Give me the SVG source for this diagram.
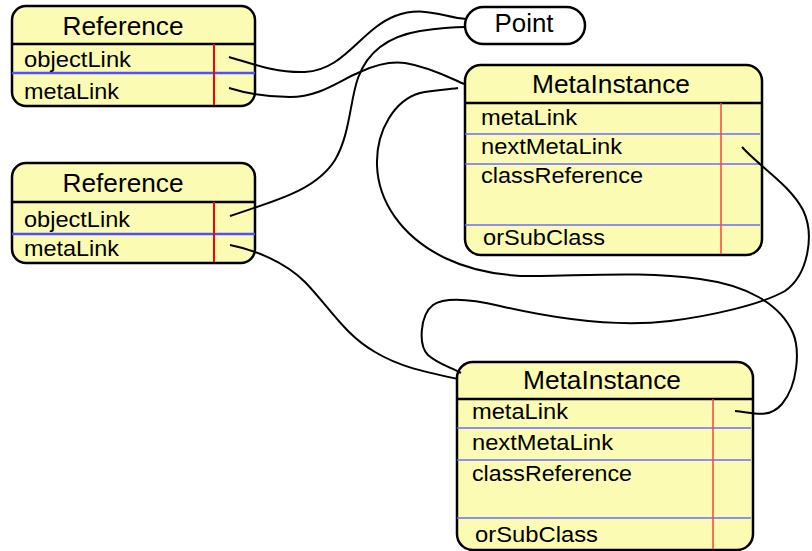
<svg xmlns="http://www.w3.org/2000/svg" width="812" height="551" viewBox="0 0 812 551">
<style>
.box{fill:#fbfbb4;stroke:#000;stroke-width:2.5}
.pt{fill:#fff;stroke:#000;stroke-width:2.5}
.hd{stroke:#000;stroke-width:2.5}
.rb{stroke:#5050ff;stroke-width:2.5}
.rr{stroke:#ff0000;stroke-width:2}
.mb{stroke:#6c6cff;stroke-width:1.5}
.mr{stroke:#ff4040;stroke-width:1.5}
.t{font-family:"Liberation Sans",Arial,sans-serif;fill:#000}
.h{font-size:25.5px;text-anchor:middle}
.r{font-size:22.5px}
.c{fill:none;stroke:#000;stroke-width:2}
</style>
<g id="ref1">
<rect class="box" x="12" y="6" width="243" height="100" rx="14"/>
<line class="hd" x1="12" y1="44" x2="255" y2="44"/>
<line class="rb" x1="12" y1="73" x2="255" y2="73"/>
<line class="rr" x1="214" y1="44" x2="214" y2="105"/>
<text class="t h" x="123" y="35" textLength="121" lengthAdjust="spacingAndGlyphs">Reference</text>
<text class="t r" x="24" y="67" textLength="107" lengthAdjust="spacingAndGlyphs">objectLink</text>
<text class="t r" x="24" y="99" textLength="95" lengthAdjust="spacingAndGlyphs">metaLink</text>
</g>
<g id="ref2">
<rect class="box" x="12" y="163" width="243" height="100" rx="14"/>
<line class="hd" x1="12" y1="202" x2="255" y2="202"/>
<line class="rb" x1="12" y1="234" x2="255" y2="234"/>
<line class="rr" x1="214" y1="202" x2="214" y2="262"/>
<text class="t h" x="123" y="192" textLength="121" lengthAdjust="spacingAndGlyphs">Reference</text>
<text class="t r" x="24" y="227" textLength="106" lengthAdjust="spacingAndGlyphs">objectLink</text>
<text class="t r" x="24" y="256" textLength="95" lengthAdjust="spacingAndGlyphs">metaLink</text>
</g>
<g id="point">
<rect class="pt" x="465" y="7" width="120" height="37" rx="18.5"/>
<text class="t" x="524" y="32" font-size="26" text-anchor="middle" textLength="59" lengthAdjust="spacingAndGlyphs">Point</text>
</g>
<g id="meta1">
<rect class="box" x="465" y="65" width="297" height="190" rx="16"/>
<line class="hd" x1="465" y1="103" x2="762" y2="103"/>
<line class="mb" x1="465" y1="134" x2="760" y2="134"/>
<line class="mb" x1="465" y1="164" x2="760" y2="164"/>
<line class="mb" x1="465" y1="225" x2="760" y2="225"/>
<line class="mr" x1="721" y1="103" x2="721" y2="254"/>
<text class="t h" x="611" y="93" textLength="158" lengthAdjust="spacingAndGlyphs">MetaInstance</text>
<text class="t r" x="481" y="125" textLength="96" lengthAdjust="spacingAndGlyphs">metaLink</text>
<text class="t r" x="481" y="154" textLength="141" lengthAdjust="spacingAndGlyphs">nextMetaLink</text>
<text class="t r" x="481" y="183" textLength="162" lengthAdjust="spacingAndGlyphs">classReference</text>
<text class="t r" x="483" y="245" textLength="122" lengthAdjust="spacingAndGlyphs">orSubClass</text>
</g>
<g id="meta2">
<rect class="box" x="457" y="362" width="296" height="188" rx="16"/>
<line class="hd" x1="457" y1="399" x2="753" y2="399"/>
<line class="mb" x1="457" y1="428" x2="751" y2="428"/>
<line class="mb" x1="457" y1="460" x2="751" y2="460"/>
<line class="mb" x1="457" y1="518" x2="751" y2="518"/>
<line class="mr" x1="713" y1="399" x2="713" y2="549"/>
<text class="t h" x="602" y="389" textLength="158" lengthAdjust="spacingAndGlyphs">MetaInstance</text>
<text class="t r" x="472" y="419" textLength="96" lengthAdjust="spacingAndGlyphs">metaLink</text>
<text class="t r" x="472" y="450" textLength="141" lengthAdjust="spacingAndGlyphs">nextMetaLink</text>
<text class="t r" x="472" y="481" textLength="160" lengthAdjust="spacingAndGlyphs">classReference</text>
<text class="t r" x="475" y="542" textLength="123" lengthAdjust="spacingAndGlyphs">orSubClass</text>
</g>
<g id="connectors">
<path class="c" d="M229,57 C250,63 275,73 305,72 C345,70 360,30 395,16 C425,5 445,18 466,19"/>
<path class="c" d="M229,88 C245,93 265,97 290,97 C320,97 340,80 360,72 C375,65 390,61 405,63 C430,67 450,78 464,84"/>
<path class="c" d="M230,216 C270,202 315,192 335,160 C350,135 350,100 358,78 C368,50 390,36 420,31 C440,28 455,27 466,27"/>
<path class="c" d="M230,245 C255,250 285,262 305,282 C330,308 345,335 375,352 C400,367 425,372 458,379"/>
<path class="c" d="M735,411 C752,412 768,420 782,404 C798,385 800,350 793,333 C780,303 745,285 700,279 C650,272 600,275 540,276 C500,277 470,270 445,258 C400,236 378,200 377,165 C376,130 395,100 420,93 C435,90 445,90 458,88"/>
<path class="c" d="M742,147 C760,167 790,185 803,210 C815,235 808,275 785,291 C760,305 710,316 670,321 C620,327 560,320 500,306 C470,299 445,297 433,305 C420,315 418,345 428,355 C438,364 450,367 461,373"/>
</g>
</svg>
